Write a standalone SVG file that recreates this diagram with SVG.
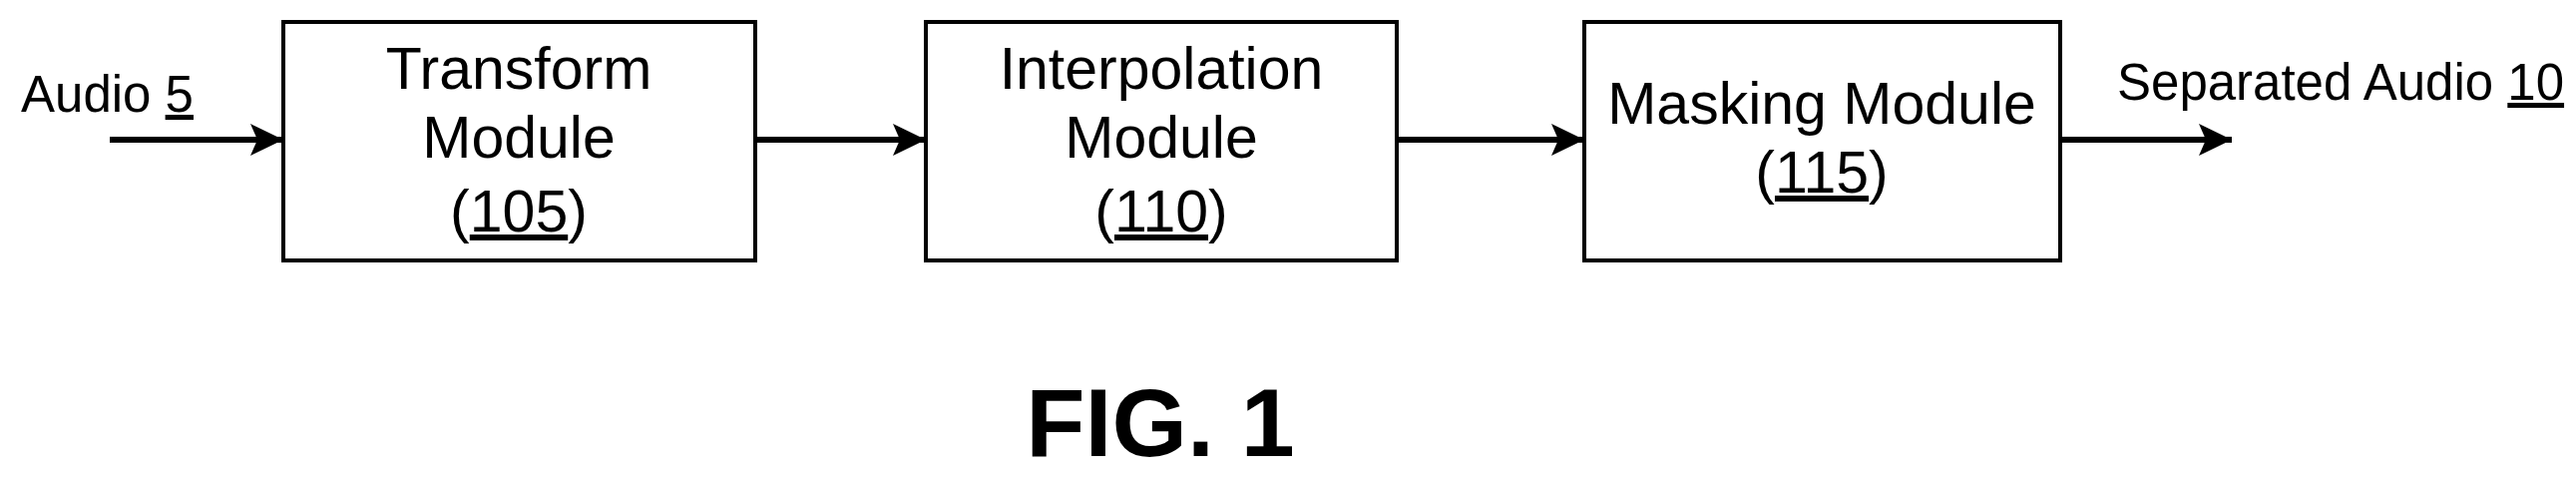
<svg xmlns="http://www.w3.org/2000/svg" width="2582" height="479" viewBox="0 0 2582 479">
<defs>
<marker id="ah" markerUnits="userSpaceOnUse" markerWidth="34" markerHeight="32" refX="33" refY="16" orient="auto"><path d="M0,0 L33,16 L0,32 L7,16 Z" fill="#000"/></marker>
<style>
.box{fill:#fff;stroke:#000;stroke-width:4}
.t{font-family:"Liberation Sans",Arial,sans-serif;font-size:59px;fill:#000;text-anchor:middle}
.l{font-family:"Liberation Sans",Arial,sans-serif;font-size:51px;fill:#000}
.c{stroke:#000;stroke-width:6;fill:none;marker-end:url(#ah)}
</style>
</defs>
<rect width="2582" height="479" fill="#fff"/>
<g id="n105"><rect class="box" x="284" y="22" width="473" height="239"/>
<text class="t" x="520" y="89">Transform</text><text class="t" x="520" y="158">Module</text><text class="t" x="520" y="232">(<tspan text-decoration="underline">105</tspan>)</text></g>
<g id="n110"><rect class="box" x="928" y="22" width="472" height="239"/>
<text class="t" x="1164" y="89">Interpolation</text><text class="t" x="1164" y="158">Module</text><text class="t" x="1164" y="232">(<tspan text-decoration="underline">110</tspan>)</text></g>
<g id="n115"><rect class="box" x="1588" y="22" width="477" height="239"/>
<text class="t" x="1826" y="124">Masking Module</text><text class="t" x="1826" y="193">(<tspan text-decoration="underline">115</tspan>)</text></g>
<g id="labels">
<text class="l" x="21" y="112">Audio <tspan text-decoration="underline">5</tspan></text>
<text class="l" x="2122" y="100">Separated Audio <tspan text-decoration="underline">10</tspan></text>
<text x="1163" y="457" font-family="Liberation Sans,Arial,sans-serif" font-weight="bold" font-size="97" text-anchor="middle">FIG. 1</text>
</g>
<g id="connectors">
<line class="c" x1="110" y1="140" x2="284" y2="140"/>
<line class="c" x1="757" y1="140" x2="928" y2="140"/>
<line class="c" x1="1400" y1="140" x2="1588" y2="140"/>
<line class="c" x1="2065" y1="140" x2="2237" y2="140"/>
</g>
</svg>
